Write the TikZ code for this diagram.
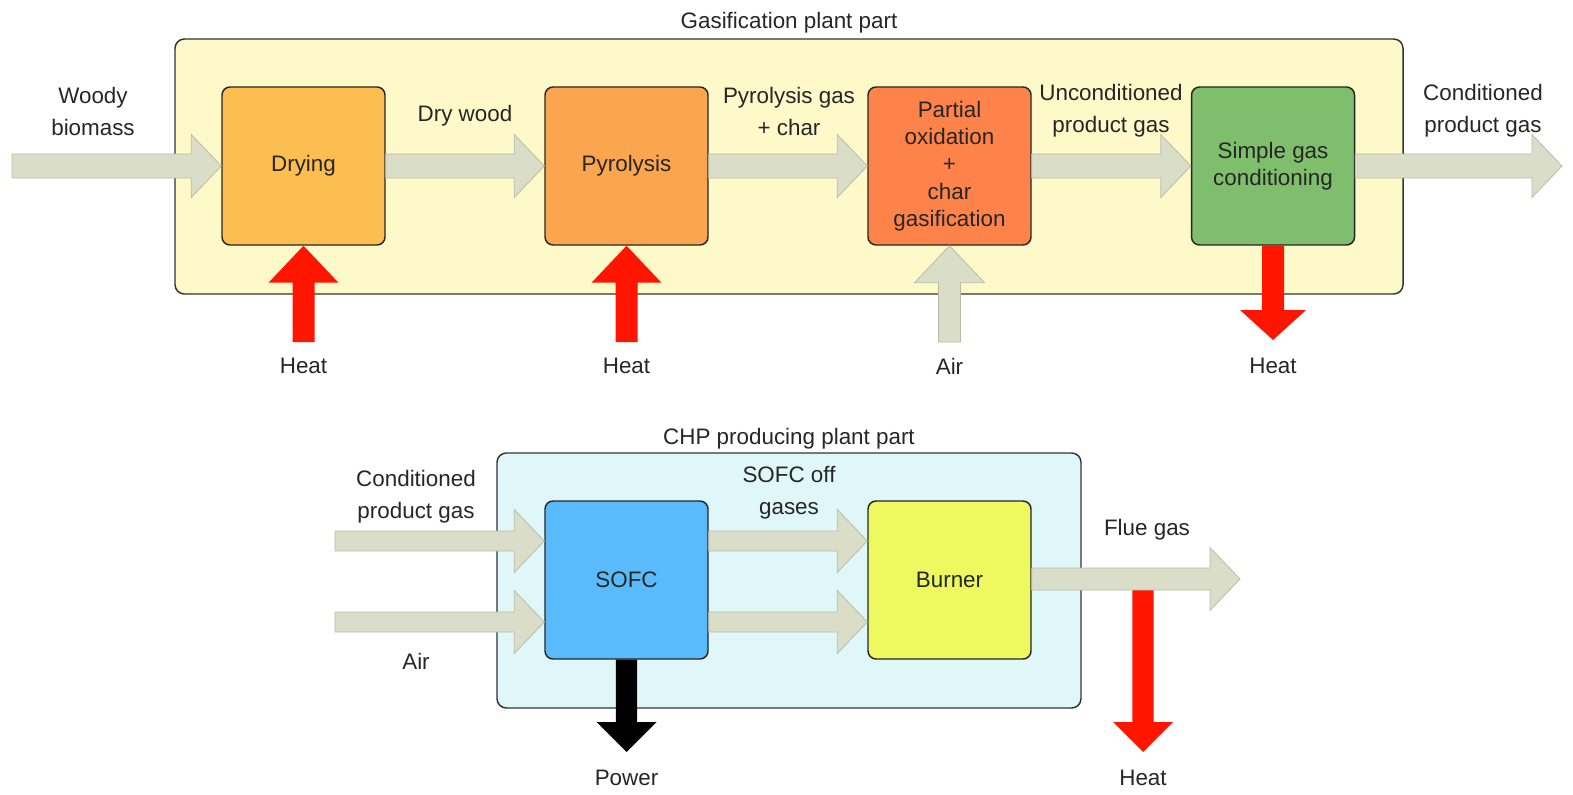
\documentclass[tikz,border=0pt]{standalone}
\usepackage{fontspec}
\setmainfont{Liberation Sans}
\usetikzlibrary{calc}
\definecolor{txt}{HTML}{262626}
\definecolor{topbg}{HTML}{FEF9C9}
\definecolor{botbg}{HTML}{E0F7F9}
\definecolor{dryc}{HTML}{FDBE51}
\definecolor{pyrc}{HTML}{FBA54F}
\definecolor{poxc}{HTML}{FD834A}
\definecolor{sgcc}{HTML}{7EBE6C}
\definecolor{sofcc}{HTML}{59BAFC}
\definecolor{burnc}{HTML}{EEF95F}
\definecolor{flowc}{HTML}{DADDC8}
\definecolor{flowd}{HTML}{B9BDA8}
\definecolor{heatc}{HTML}{FF1500}
\tikzset{
  lbl/.style={text=txt, align=center, inner sep=0pt, font=\fontsize{16.8}{24}\selectfont},
  proc/.style={draw=black!85, line width=1.1pt, rounded corners=6pt, minimum width=122.25pt, minimum height=118.5pt, align=center, text=txt, inner sep=0pt, font=\fontsize{16.8}{20.5}\selectfont},
  plant/.style={draw=black!80, line width=1.1pt, rounded corners=7pt},
  flow/.style={fill=flowc, draw=flowd, line width=0.6pt},
  heatflow/.style={fill=heatc},
  powerflow/.style={fill=black}
}
% horizontal block arrow: from #1 to #2 (tip), style #3, half shaft #4, half head #5, head length #6
\newcommand{\harr}[6]{\path[#3] let \p1=#1, \p2=#2 in (\x1,\y1-#4) -- (\x2-#6,\y1-#4) -- (\x2-#6,\y1-#5) -- (\x2,\y1) -- (\x2-#6,\y1+#5) -- (\x2-#6,\y1+#4) -- (\x1,\y1+#4) -- cycle;}
% upward block arrow, tip at #2
\newcommand{\uarr}[6]{\path[#3] let \p1=#1, \p2=#2 in (\x2-#4,\y1) -- (\x2-#4,\y2-#6) -- (\x2-#5,\y2-#6) -- (\x2,\y2) -- (\x2+#5,\y2-#6) -- (\x2+#4,\y2-#6) -- (\x2+#4,\y1) -- cycle;}
% downward block arrow, tip at #2
\newcommand{\darr}[6]{\path[#3] let \p1=#1, \p2=#2 in (\x1-#4,\y1) -- (\x1-#4,\y2+#6) -- (\x1-#5,\y2+#6) -- (\x1,\y2) -- (\x1+#5,\y2+#6) -- (\x1+#4,\y2+#6) -- (\x1+#4,\y1) -- cycle;}
\begin{document}
\begin{tikzpicture}[x=0.75pt,y=-0.75pt]
\useasboundingbox (0,0) rectangle (1573,795);
% ---------- gasification part ----------
\draw[plant, fill=topbg] (175,39) rectangle (1403,294);
\node[lbl] (gtitle) at (789,23) {Gasification plant part};
\node[proc, fill=dryc] (dry) at (303.5,166) {Drying};
\node[proc, fill=pyrc] (pyr) at (626.5,166) {Pyrolysis};
\node[proc, fill=poxc] (pox) at (949.5,166) {Partial\\oxidation\\+\\char\\gasification};
\node[proc, fill=sgcc] (sgc) at (1273,166) {Simple gas\\conditioning};
\coordinate (wbin) at (12,166);
\coordinate (cpgout) at (1562,166);
\coordinate (heat1) at (303.5,342);
\coordinate (heat2) at (626.5,342);
\coordinate (airin) at (949.5,342);
\coordinate (heat3) at (1273,340);
\harr{(wbin)}{(dry.west)}{flow}{9pt}{23.6pt}{22.5pt}
\harr{(dry.east)}{(pyr.west)}{flow}{9pt}{23.6pt}{22.5pt}
\harr{(pyr.east)}{(pox.west)}{flow}{9pt}{23.6pt}{22.5pt}
\harr{(pox.east)}{(sgc.west)}{flow}{9pt}{23.6pt}{22.5pt}
\harr{(sgc.east)}{(cpgout)}{flow}{9pt}{23.6pt}{22.5pt}
\uarr{(heat1)}{(dry.south)}{heatflow}{8.25pt}{26.25pt}{27.75pt}
\uarr{(heat2)}{(pyr.south)}{heatflow}{8.25pt}{26.25pt}{27.75pt}
\uarr{(airin)}{(pox.south)}{flow}{8.25pt}{26.25pt}{27.75pt}
\darr{(sgc.south)}{(heat3)}{heatflow}{8.25pt}{24.75pt}{22.5pt}
\node[lbl] (lwb) at (93,111) {Woody\\biomass};
\node[lbl] (ldw) at (465,116) {Dry wood};
\node[lbl] (lpg) at (789,111) {Pyrolysis gas\\+ char};
\node[lbl] (lupg) at (1111,111) {Unconditioned\\product gas};
\node[lbl] (lcpg) at (1483,111) {Conditioned\\product gas};
\node[lbl] (lh1) at (303.5,366) {Heat};
\node[lbl] (lh2) at (626.5,366) {Heat};
\node[lbl] (lair) at (949.5,366) {Air};
\node[lbl] (lh3) at (1273,366) {Heat};
% ---------- CHP part ----------
\draw[plant, fill=botbg] (497,453) rectangle (1081,708);
\node[lbl] (ctitle) at (789,439) {CHP producing plant part};
\node[proc, fill=sofcc] (sofc) at (626.5,580) {SOFC};
\node[proc, fill=burnc] (burn) at (949.5,580) {Burner};
\coordinate (cpgin) at (335,541);
\coordinate (airin2) at (335,622);
\coordinate (flueout) at (1240,579);
\coordinate (heatst) at (1143,590);
\coordinate (heat4) at (1143,752);
\coordinate (power) at (626.5,752);
\harr{(cpgin)}{($(sofc.west)+(0,-39)$)}{flow}{7.5pt}{23.6pt}{22.5pt}
\harr{(airin2)}{($(sofc.west)+(0,42)$)}{flow}{7.5pt}{23.6pt}{22.5pt}
\harr{($(sofc.east)+(0,-39)$)}{($(burn.west)+(0,-39)$)}{flow}{7.5pt}{23.6pt}{22.5pt}
\harr{($(sofc.east)+(0,42)$)}{($(burn.west)+(0,42)$)}{flow}{7.5pt}{23.6pt}{22.5pt}
\darr{(heatst)}{(heat4)}{heatflow}{8pt}{22.5pt}{22.5pt}
\harr{($(burn.east)+(0,-1)$)}{(flueout)}{flow}{8.25pt}{23.6pt}{22.5pt}
\darr{(sofc.south)}{(power)}{powerflow}{8pt}{22.5pt}{22.5pt}
\node[lbl] (lcpg2) at (416,497) {Conditioned\\product gas};
\node[lbl] (lair2) at (416,661) {Air};
\node[lbl] (loff) at (789,493) {SOFC off\\gases};
\node[lbl] (lflue) at (1147,530) {Flue gas};
\node[lbl] (lpow) at (626.5,778) {Power};
\node[lbl] (lh4) at (1143,778) {Heat};
\end{tikzpicture}
\end{document}
